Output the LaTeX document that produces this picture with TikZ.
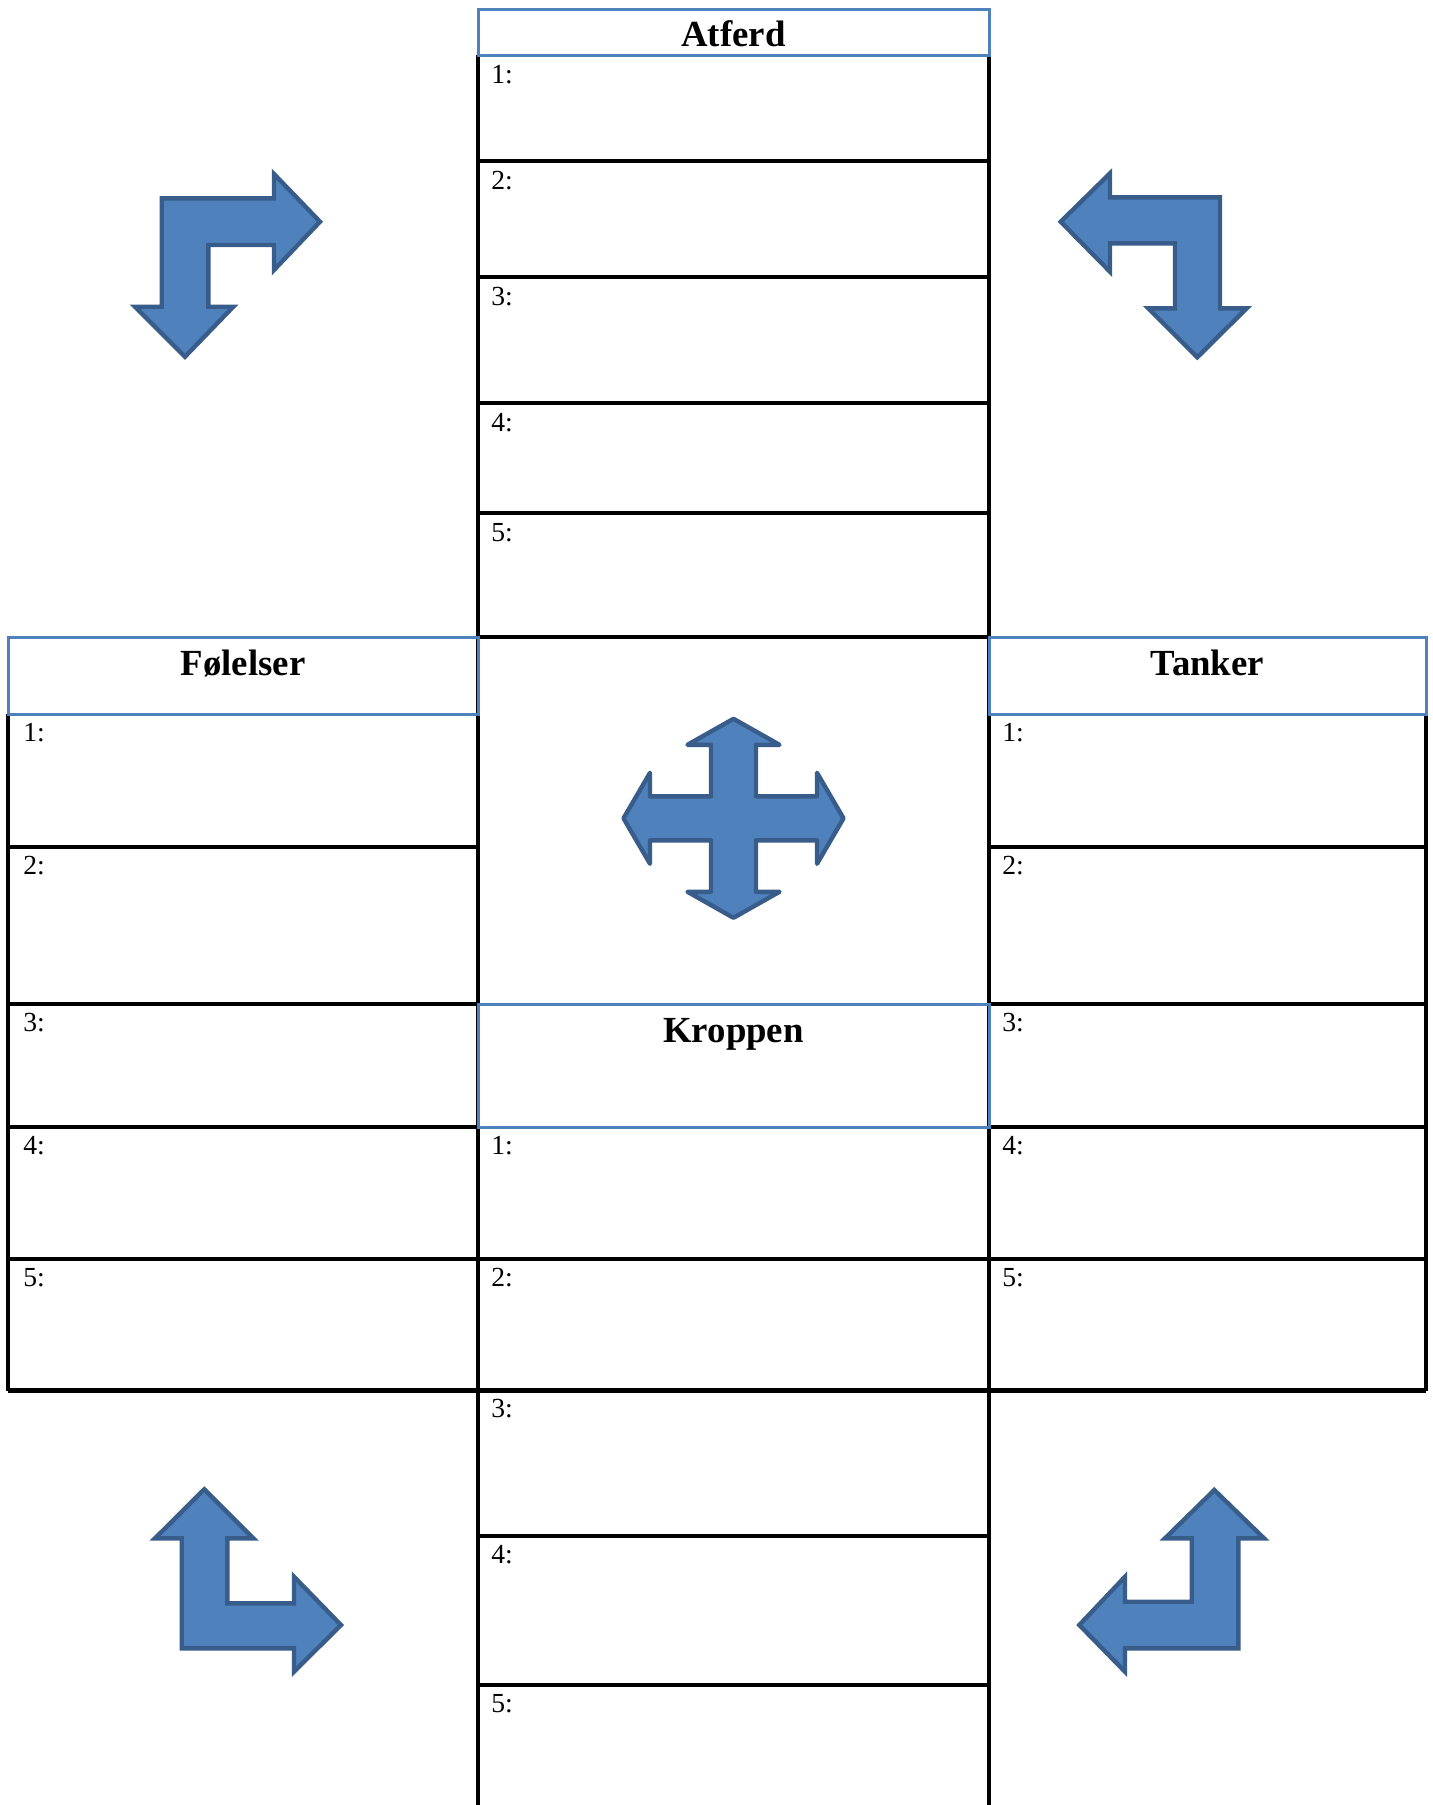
\documentclass[tikz,border=0pt]{standalone}
\usepackage{fontspec}
\setmainfont{Liberation Serif}
\definecolor{ofblue}{HTML}{4F81BD}
\definecolor{ofdark}{HTML}{385D8A}
\tikzset{
  gridline/.style={line width=1.65pt, draw=black},
  thickline/.style={line width=2.3pt, draw=black},
  headbox/.style={draw=ofblue, line width=1.5pt},
  lbl/.style={anchor=base west, inner sep=0pt, font=\fontsize{13.8}{15}\selectfont},
  headtxt/.style={anchor=base, inner sep=0pt, font=\fontsize{18.4}{20}\selectfont\bfseries},
  bluearrow/.style={fill=ofblue, draw=ofdark, line width=2.2pt, line join=miter},
  quadarrow/.style={fill=ofblue, draw=ofdark, line width=2.2pt, line join=round},
}
\begin{document}
\begin{tikzpicture}[x=0.5pt, y=-0.5pt]
\path[use as bounding box] (0,0) rectangle (1432,1805);

% ---------- black grid lines ----------
% central column verticals
\draw[gridline] (478,55) -- (478,1805);
\draw[gridline] (989,55) -- (989,1805);
% Atferd rows
\foreach \yy in {161,277,403,513,637}
  \draw[gridline] (478,\yy) -- (989,\yy);
% left table
\draw[gridline] (8,714) -- (8,1390.5);
\foreach \yy in {847,1004,1127}
  \draw[gridline] (8,\yy) -- (478,\yy);
% right table
\draw[gridline] (1426,714) -- (1426,1390.5);
\foreach \yy in {847,1004,1127}
  \draw[gridline] (989,\yy) -- (1426,\yy);
% full-width rows
\draw[gridline] (8,1259) -- (1426,1259);
\draw[thickline] (8,1390.5) -- (1426,1390.5);
% Kroppen lower rows
\foreach \yy in {1536,1685}
  \draw[gridline] (478,\yy) -- (989,\yy);

% ---------- blue header boxes ----------
\draw[headbox] (478,9) rectangle (989,55);
\draw[headbox] (8,637) rectangle (478,714);
\draw[headbox] (989,637) rectangle (1426,714);
\draw[headbox] (478,1004) rectangle (989,1127);

% ---------- headings ----------
\node[headtxt] (hAtferd) at (733.5,46.5) {Atferd};
\node[headtxt] (hFolelser) at (243,675) {Følelser};
\node[headtxt] (hTanker) at (1207.5,675) {Tanker};
\node[headtxt] (hKroppen) at (733.5,1042) {Kroppen};

% ---------- row labels ----------
\foreach \yy [count=\i] in {55,161,277,403,513}
  \node[lbl] (at\i) at (491,\yy+28) {\i:};
\foreach \yy [count=\i] in {714,847,1004,1127,1259}
  \node[lbl] (fo\i) at (23,\yy+27) {\i:};
\foreach \yy [count=\i] in {714,847,1004,1127,1259}
  \node[lbl] (ta\i) at (1002,\yy+27) {\i:};
\foreach \yy [count=\i] in {1127,1259,1390.5,1536,1685}
  \node[lbl] (kr\i) at (491,\yy+27) {\i:};

% ---------- bent arrows ----------
% top-left
\draw[bluearrow] (161.7,198.3) -- (274,198.3) -- (274,174) -- (320,221.7) -- (274,270)
  -- (274,245) -- (208.3,245) -- (208.3,306.7) -- (233.3,306.7) -- (185,356.7)
  -- (135,306.7) -- (161.7,306.7) -- cycle;
% top-right
\draw[bluearrow] (1220,197.3) -- (1110,197.3) -- (1110,173.3) -- (1060.7,221.7) -- (1110,271.7)
  -- (1110,243.3) -- (1175,243.3) -- (1175,308.3) -- (1148.3,308.3) -- (1197.3,357.3)
  -- (1246.7,308.3) -- (1220,308.3) -- cycle;
% bottom-left
\draw[bluearrow] (204.3,1489.3) -- (253.3,1538.3) -- (227.3,1538.3) -- (227.3,1603.3)
  -- (294,1603.3) -- (294,1576.7) -- (341,1625) -- (294,1671.7) -- (294,1648.3)
  -- (181.7,1648.3) -- (181.7,1538.3) -- (155,1538.3) -- cycle;
% bottom-right
\draw[bluearrow] (1214.3,1490) -- (1264,1538.3) -- (1238.3,1538.3) -- (1238.3,1648.3)
  -- (1125,1648.3) -- (1125,1671.7) -- (1079.3,1625) -- (1125,1576.7) -- (1125,1601.7)
  -- (1191.7,1601.7) -- (1191.7,1538.3) -- (1165,1538.3) -- cycle;

% ---------- quad arrow ----------
\begin{scope}[shift={(733.5,818.3)}]
\draw[quadarrow] (0,-99.5) -- (46,-73.5) -- (22.5,-73.5) -- (22.5,-22) -- (83.5,-22)
  -- (83.5,-45.5) -- (110,0) -- (83.5,45.5) -- (83.5,22) -- (22.5,22) -- (22.5,73.5)
  -- (46,73.5) -- (0,99.5) -- (-46,73.5) -- (-22.5,73.5) -- (-22.5,22) -- (-83.5,22)
  -- (-83.5,45.5) -- (-110,0) -- (-83.5,-45.5) -- (-83.5,-22) -- (-22.5,-22)
  -- (-22.5,-73.5) -- (-46,-73.5) -- cycle;
\end{scope}
\end{tikzpicture}
\end{document}
